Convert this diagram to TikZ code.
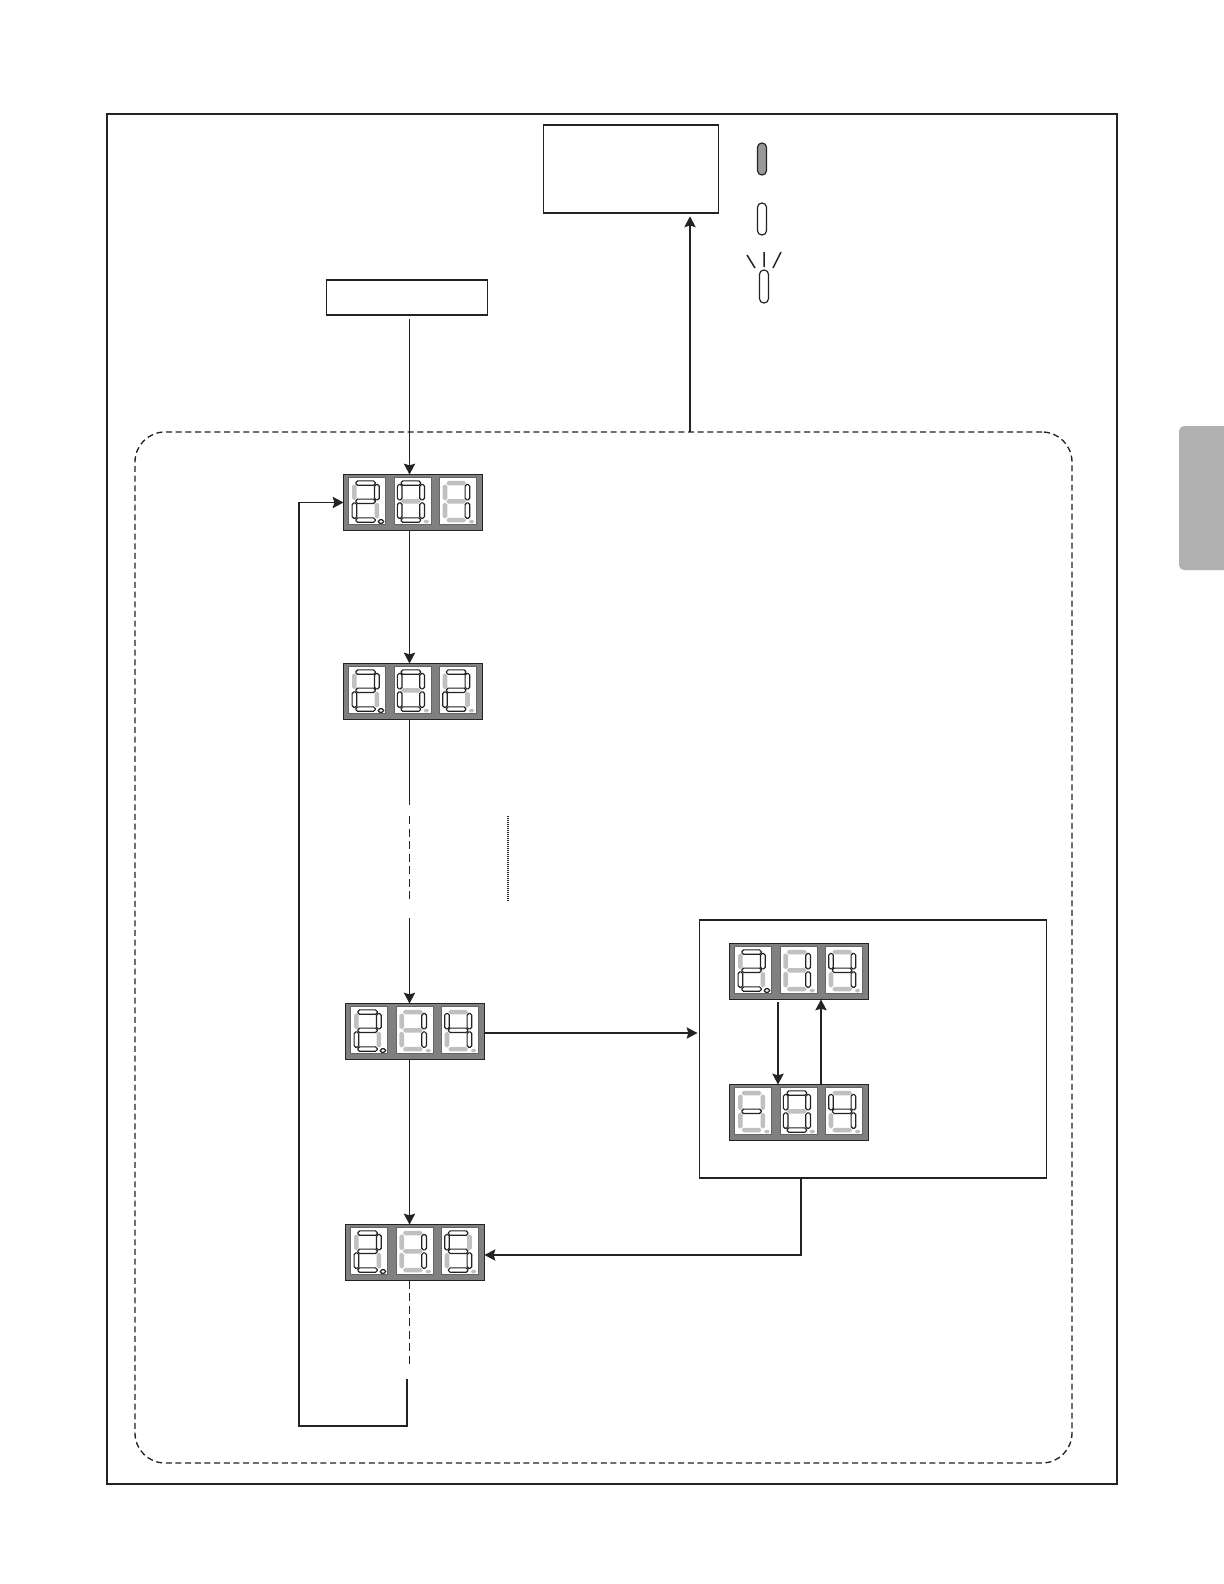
\documentclass[tikz,border=0pt]{standalone}
\usepackage{amsmath,amssymb}
\usetikzlibrary{arrows.meta}
\definecolor{figK}{RGB}{35,35,35}
\definecolor{figP}{RGB}{128,128,128}
\definecolor{figS}{RGB}{192,192,192}
\definecolor{figT}{RGB}{176,176,176}
\tikzset{
  panelbox/.style={draw=figK,fill=white,line width=0.75pt,inner sep=0pt,outer sep=0pt,anchor=north west},
  plate/.style={draw=figK,fill=figP,line width=0.6pt,inner sep=0pt,outer sep=0pt,anchor=north west,minimum width=83.4pt,minimum height=33.6pt},
  segoff/.style={fill=figS},
  segon/.style={draw=figK,fill=white,line width=0.7pt},
  flow/.style={figK,line width=0.7pt},
  sega/.pic={\path[pic actions,rounded corners=1pt] (7.2,3.6) rectangle (26.5,8);},
  segb/.pic={\path[pic actions,rounded corners=1pt] (25.8,7.2) rectangle (30.5,22.6);},
  segc/.pic={\path[pic actions,rounded corners=1pt] (25.8,25.6) rectangle (30.5,41);},
  segd/.pic={\path[pic actions,rounded corners=1pt] (7.2,40.6) rectangle (26.5,45);},
  sege/.pic={\path[pic actions,rounded corners=1pt] (3.4,25.6) rectangle (8,41);},
  segf/.pic={\path[pic actions,rounded corners=1pt] (3.4,7.2) rectangle (8,22.6);},
  segg/.pic={\path[pic actions,rounded corners=1pt] (7.2,21.8) rectangle (26.5,26.2);},
  segp/.pic={\path[pic actions,rounded corners=1pt] (29.5,42.5) rectangle (35,46);},
}
% one digit window: x offset, lit segments
\newcommand{\lcdigit}[2]{
  \fill[white] (#1,3.3) rectangle ++(37,47);
  \draw[figK!70,line width=0.3pt] (#1,3.3) rectangle ++(37,47);
  \foreach \s in {a,b,c,d,e,f,g,p} \pic[segoff] at (#1,3.3) {seg\s};
  \foreach \s in {#2} \pic[segon] at (#1,3.3) {seg\s};
}
% whole display: name, position, three digits
\newcommand{\lcdisplay}[6]{
  \node[plate] (#1) at (#2+0.5,#3+0.5) {};
  \begin{scope}[shift={(#2,#3)}]
    \lcdigit{5.7}{#4}
    \lcdigit{51}{#5}
    \lcdigit{96.3}{#6}
  \end{scope}
}
\begin{document}
\begin{tikzpicture}[x=0.6pt,y=-0.6pt,>={Stealth[length=6.5pt,width=6.8pt,inset=1pt]}]
\useasboundingbox (0,0) rectangle (1224,1584);
% thumb tab and outer frame
\fill[figT] (1224,426) [rounded corners=3pt] -- (1179,426) -- (1179,570) [sharp corners] -- (1224,570) -- cycle;
\node[panelbox,line width=1.2pt,minimum width=606pt,minimum height=822pt] (frame) at (107,114) {};
% dashed group
\node[panelbox,line width=0.8pt,dash pattern=on 3.6pt off 2.2pt,rounded corners=18pt,minimum width=562.2pt,minimum height=618.6pt] (group) at (135,432) {};
% boxes
\node[panelbox,minimum width=105pt,minimum height=52.8pt] (topbox) at (543.5,125) {};
\node[panelbox,minimum width=96.6pt,minimum height=21pt] (startbox) at (326.5,280) {};
\node[panelbox,minimum width=208.2pt,minimum height=154.8pt] (setbox) at (699.5,920) {};
% indicators
\draw[figK,fill=figP!80,line width=0.7pt,rounded corners=2.6pt] (757.5,143) rectangle (766.5,175);
\draw[figK,fill=white,line width=0.7pt,rounded corners=2.6pt] (757.5,203) rectangle (766.5,235);
\draw[figK,fill=white,line width=0.7pt,rounded corners=2.6pt] (759.5,270) rectangle (768.5,303);
\draw[figK,line width=0.9pt] (747,255)--(755,268) (764,252)--(764,267) (781,252)--(773,268);
% displays
\lcdisplay{dispa}{343}{474}{a,b,g,e,d,p}{a,b,c,d,e,f}{b,c}
\lcdisplay{dispb}{343}{663}{a,b,g,e,d,p}{a,b,c,d,e,f}{a,b,g,e,d}
\lcdisplay{dispc}{345}{1003}{a,b,g,e,d,p}{b,c}{f,g,b,c}
\lcdisplay{dispd}{345}{1224}{a,b,g,e,d,p}{b,c}{a,f,g,c,d}
\lcdisplay{dispe}{729}{943}{a,b,g,e,d,p}{b,c}{f,g,b,c}
\lcdisplay{dispf}{729}{1084}{g}{a,b,c,d,e,f}{f,g,b,c}
% columns, rows and free ends of the broken lines
\coordinate (cola) at (409.5,0); \coordinate (colb) at (690,0);
\coordinate (colc) at (801,0); \coordinate (cold) at (778,0); \coordinate (cole) at (821,0);
\coordinate (rowa) at (0,1033); \coordinate (rowb) at (0,1255);
\coordinate (gapa) at (409.5,805); \coordinate (gapb) at (409.5,816); \coordinate (gapc) at (409.5,899);
\coordinate (gapd) at (409.5,918); \coordinate (gape) at (409.5,1364);
\coordinate (loopa) at (407,1379); \coordinate (loopb) at (407,1426); \coordinate (loopc) at (299,1426);
\coordinate (dota) at (508,816); \coordinate (dotb) at (508,901);
% connectors
\draw[->,flow,shorten <=2.4pt] (startbox.south -| cola)--(dispa.north -| cola);
\draw[->,flow,shorten >=2pt] (group.north -| colb)--(topbox.south -| colb);
\draw[->,flow,line width=0.8pt] (dispa.south -| cola)--(dispb.north -| cola);
\draw[flow] (dispb.south -| cola)--(gapa);
\draw[flow,dash pattern=on 4.8pt off 2.7pt] (gapb)--(gapc);
\draw[->,flow] (gapd)--(dispc.north -| cola);
\draw[figK,line width=0.7pt,dash pattern=on 0.7pt off 0.5pt] (dota)--(dotb);
\draw[->,flow,shorten >=1.2pt] (dispc.east |- rowa)--(setbox.west |- rowa);
\draw[->,flow] (dispc.south -| cola)--(dispd.north -| cola);
\draw[->,flow] (setbox.south -| colc) |- (dispd.east |- rowb);
\draw[flow,dash pattern=on 4.8pt off 2.7pt] (dispd.south -| cola)--(gape);
\draw[->,flow] (loopa)--(loopb)--(loopc) |- (dispa.west);
\draw[->,flow,shorten <=1.5pt] (dispe.south -| cold)--(dispf.north -| cold);
\draw[->,flow] (dispf.north -| cole)--(dispe.south -| cole);
\end{tikzpicture}
\end{document}
